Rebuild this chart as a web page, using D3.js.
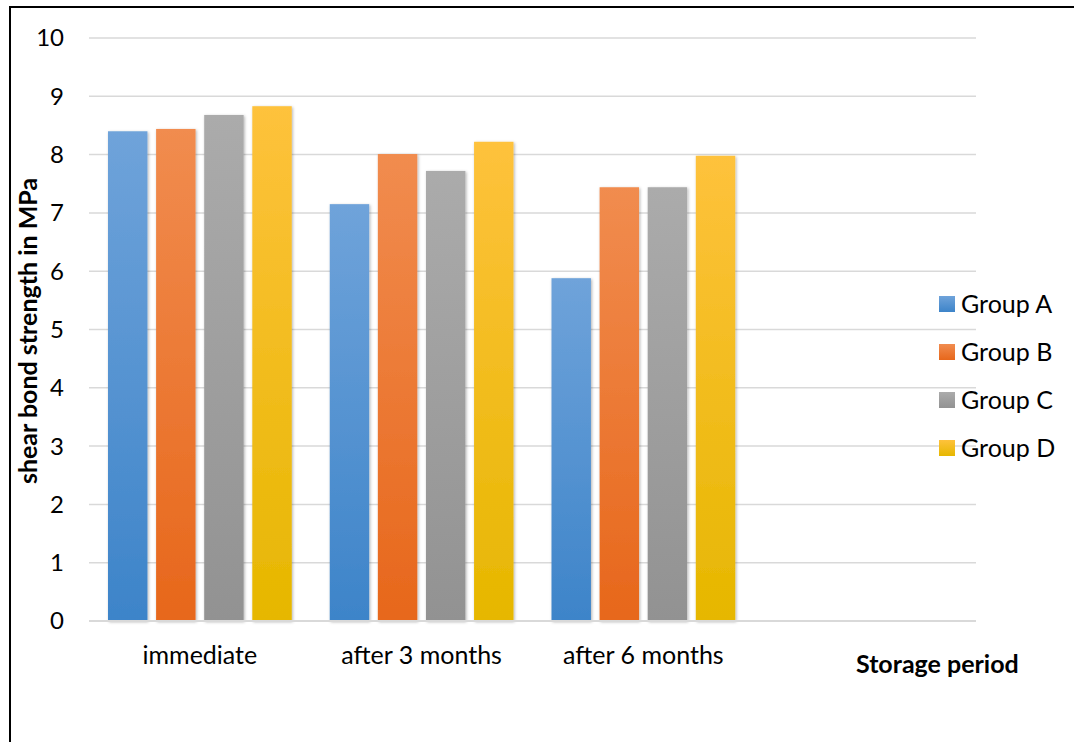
<!DOCTYPE html>
<html><head><meta charset="utf-8">
<script src="https://cdn.jsdelivr.net/npm/d3@7"></script>
<style>html,body{margin:0;padding:0;background:#fff;}svg{display:block;}</style>
</head><body>
<script>
const categories = ["immediate", "after 3 months", "after 6 months", ""];
const groups = ["Group A", "Group B", "Group C", "Group D"];
const groupA = [8.40, 7.15, 5.88];
const groupB = [8.44, 8.01, 7.44];
const groupC = [8.68, 7.72, 7.44];
const groupD = [8.83, 8.22, 7.98];
const yTicks = [0,1,2,3,4,5,6,7,8,9,10];
const series = [groupA, groupB, groupC, groupD];
const colorsTop = ["#6fa3da", "#f18c4f", "#ababab", "#fec23c"];
const colorsBot = ["#3d84c9", "#e7671b", "#929292", "#e6b700"];

const W = 1074, H = 742;
const svg = d3.select("body").append("svg").attr("width", W).attr("height", H);
const font = "Lato, 'Open Sans', sans-serif";

const defs = svg.append("defs");
groups.forEach((g, i) => {
  const lg = defs.append("linearGradient").attr("id", "grad" + i)
    .attr("x1", 0).attr("y1", 0).attr("x2", 0).attr("y2", 1);
  lg.append("stop").attr("offset", "0%").attr("stop-color", colorsTop[i]);
  lg.append("stop").attr("offset", "100%").attr("stop-color", colorsBot[i]);
});
const f = defs.append("filter").attr("id", "shadow").attr("x", "-20%").attr("y", "-5%").attr("width", "140%").attr("height", "110%");
f.append("feDropShadow").attr("dx", 1).attr("dy", 1).attr("stdDeviation", 1.6).attr("flood-color", "#000").attr("flood-opacity", 0.3);

// border
svg.append("line").attr("x1", 10).attr("x2", W).attr("y1", 7).attr("y2", 7).attr("stroke", "#000").attr("stroke-width", 2);
svg.append("line").attr("x1", 10).attr("x2", 10).attr("y1", 6).attr("y2", H).attr("stroke", "#000").attr("stroke-width", 2);

const x0 = d3.scaleBand().domain(categories).range([89, 976]).padding(0);
const x1 = d3.scaleBand().domain(groups).range([19, x0.bandwidth() - 19]).paddingInner(0.18).paddingOuter(0);
const y = d3.scaleLinear().domain([0, 10]).range([621, 38]);

// gridlines
svg.append("g").selectAll("line").data(yTicks.filter(d => d > 0)).join("line")
  .attr("x1", 89).attr("x2", 976).attr("y1", d => y(d)).attr("y2", d => y(d))
  .attr("stroke", "#d9d9d9").attr("stroke-width", 1.5);

// y tick labels
svg.append("g").selectAll("text").data(yTicks).join("text")
  .attr("x", 64).attr("y", d => y(d)).attr("dy", "0.35em")
  .attr("text-anchor", "end").attr("font-family", font).attr("font-size", 24).attr("fill", "#000")
  .text(d => d);

// bars
const barData = [];
series.forEach((s, gi) => s.forEach((v, ci) => barData.push({cat: categories[ci], grp: groups[gi], gi, v})));
svg.append("g").selectAll("rect").data(barData).join("rect")
  .attr("x", d => x0(d.cat) + x1(d.grp))
  .attr("y", d => y(d.v))
  .attr("width", x1.bandwidth())
  .attr("height", d => y(0) - y(d.v))
  .attr("fill", d => "url(#grad" + d.gi + ")")
  .attr("filter", "url(#shadow)");

// x axis line
svg.append("line").attr("x1", 89).attr("x2", 976).attr("y1", y(0)).attr("y2", y(0))
  .attr("stroke", "#d9d9d9").attr("stroke-width", 2);

// x tick labels
svg.append("g").selectAll("text").data(categories).join("text")
  .attr("x", d => x0(d) + x0.bandwidth() / 2).attr("y", 664)
  .attr("text-anchor", "middle").attr("font-family", font).attr("font-size", 25).attr("fill", "#000")
  .text(d => d);

// axis titles
svg.append("text").attr("x", 856).attr("y", 673).attr("font-family", font).attr("font-weight", "bold")
  .attr("font-size", 25).attr("fill", "#000").text("Storage period");
svg.append("text").attr("transform", "translate(37,331) rotate(-90)").attr("text-anchor", "middle")
  .attr("font-family", font).attr("font-weight", "bold").attr("font-size", 25).attr("fill", "#000")
  .text("shear bond strength in MPa");

// legend
const lg = svg.append("g").selectAll("g").data(groups).join("g")
  .attr("transform", (d, i) => `translate(939,${304 + i * 48})`);
lg.append("rect").attr("x", 0).attr("y", -8).attr("width", 16).attr("height", 16)
  .attr("fill", (d, i) => "url(#grad" + i + ")");
lg.append("text").attr("x", 22).attr("y", 0).attr("dy", "0.35em").attr("font-family", font)
  .attr("font-size", 25).attr("fill", "#000").text(d => d);
</script>
</body></html>
